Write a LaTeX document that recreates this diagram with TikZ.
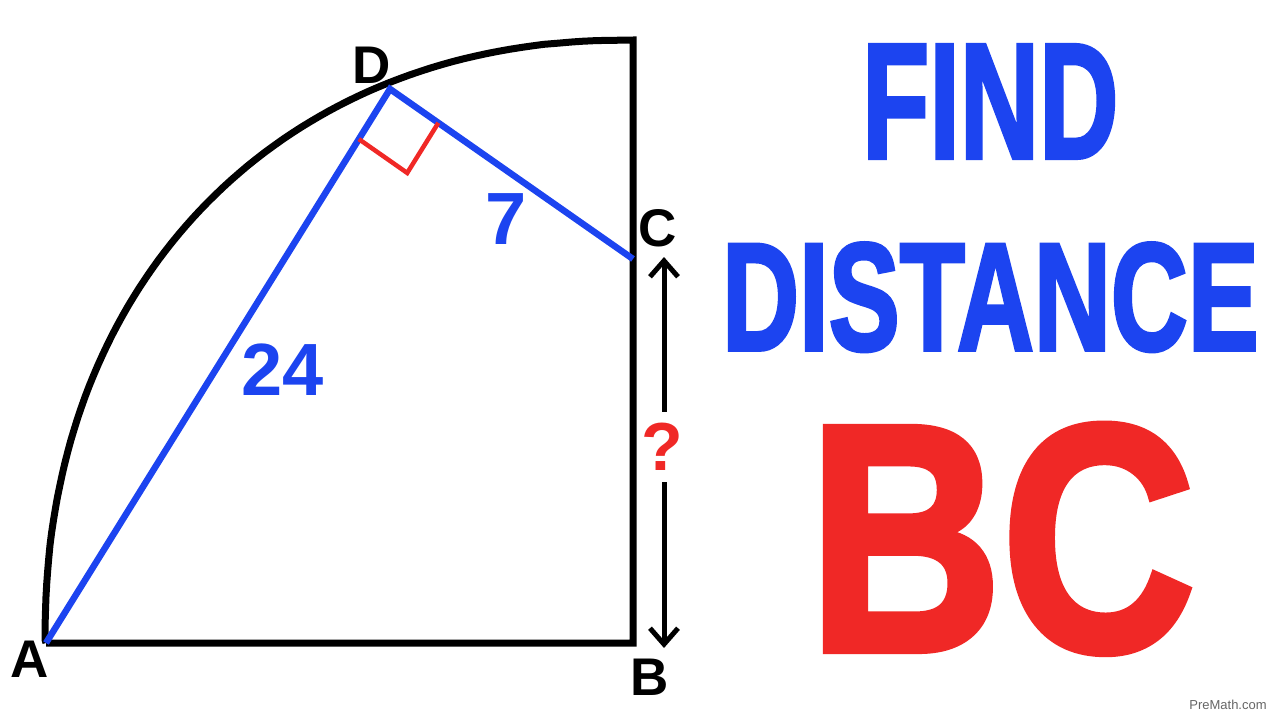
\documentclass[tikz,border=0pt]{standalone}
\usepackage{fontspec}
\setmainfont{Liberation Sans}
\newfontfamily\heavyfont[FakeBold=2.5]{Liberation Sans Bold}
\usetikzlibrary{positioning,calc,arrows.meta}
\definecolor{pmblue}{RGB}{28,68,240}
\definecolor{pmred}{RGB}{240,40,38}
\tikzset{
    edge/.style={
           draw=black,
           line width=7pt,
           },
    side/.style={
           draw=pmblue,
           line width=6.5pt,
           line join=miter,
           },
    vertex/.style={
           inner sep=0pt,
           font=\fontsize{53}{53}\selectfont\bfseries,
           },
    length/.style={
           inner sep=0pt,
           text=pmblue,
           font=\fontsize{74}{74}\selectfont\bfseries,
           },
    title/.style={
           inner sep=0pt,
           anchor=base west,
           font=\heavyfont,
           },
    dimarrow/.style={
           {Straight Barb[length=16pt,width=28pt]}-{Straight Barb[length=16pt,width=28pt]},
           line width=5pt,
           },
}

\begin{document}
\begin{tikzpicture}
[
x=1pt,y=-1pt
]
 \useasboundingbox (0,0) rectangle (1280,720);
 \fill[white] (0,0) rectangle (1280,720);

 % corner points of the quarter circle
 \coordinate (A) at (46,643);
 \coordinate (B) at (633,643);
 \coordinate (C) at (633,259);
 \coordinate (D) at (390,89);
 \coordinate (TOP) at (633,40);

 % outline: bottom, right side and arc
 \draw[edge] (A) -- (B) -- (TOP) --
  plot[domain=92.8:179.8, samples=80, variable=\t]
  ({633-588*pow(-cos(\t),0.92)},{643-603*pow(sin(\t),0.92)})
  -- (A);

 % chords AD and DC
 \draw[side] (A) -- (D) -- (C);

 % right angle at D
 \coordinate (RA1) at ($(D)!59pt!(A)$);
 \coordinate (RA2) at ($(D)!59pt!(C)$);
 \draw[draw=pmred, line width=4.5pt] (RA1) -- ($(RA1)+(RA2)-(D)$) -- (RA2);

 % distance BC
 \coordinate (ARRTOP) at (664,257);
 \coordinate (ARRBOT) at (664,648);
 \draw[dimarrow] (ARRTOP) -- (ARRBOT);
 \node[fill=white, inner xsep=2pt, inner ysep=11.5pt, text=pmred,
 font=\fontsize{68}{68}\selectfont\bfseries] (QUEST) at (662,447) {?};

 % vertex labels
 \node[vertex] (LA) at (30,659) {A};
 \node[vertex] (LB) at (650,677) {B};
 \node[vertex] (LC) at (658,228) {C};
 \node[vertex] (LD) at (372,65) {D};

 % side lengths
 \node[length] (L24) at (283,370) {24};
 \node[length] (L7) at (506,219) {7};

 % heading on the right
 \node[title, text=pmblue] (FINDTXT) at (862,158)
  {\resizebox{256pt}{113pt}{FIND}};
 \node[title, text=pmblue] (DISTTXT) at (722,350)
  {\resizebox{536pt}{107pt}{DISTANCE}};
 \node[title, text=pmred] (BCTXT) at (808,650)
  {\resizebox{387pt}{225pt}{BC}};

 \node[text=black!60, font=\fontsize{13}{13}\selectfont] (LOGO) at (1228,705) {PreMath.com};

\end{tikzpicture}
\end{document}
